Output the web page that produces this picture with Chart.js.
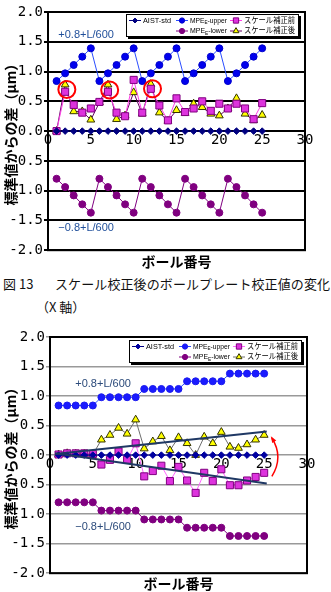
<!DOCTYPE html>
<html lang="ja">
<head>
<meta charset="utf-8">
<title>スケール校正後のボールプレート校正値の変化</title>
<script src="https://cdn.jsdelivr.net/npm/chart.js@4.4.1/dist/chart.umd.min.js"></script>
<style>
html, body { margin: 0; padding: 0; background: #fff; }
body { width: 331px; height: 592px; position: relative; overflow: hidden; font-family: "Noto Sans CJK JP", sans-serif; }
.box { position: absolute; left: 0; width: 331px; }
#box1 { top: 0; height: 270px; }
#box2 { top: 320px; height: 272px; }
.cap { position: absolute; font-size: 13px; line-height: 18px; color: #111; white-space: nowrap; }
</style>
</head>
<body>
<div class="box" id="box1"><canvas id="fig13"></canvas></div>
<div class="cap" style="left:3px; top:275px;">図 13</div>
<div class="cap" style="left:55px; top:275px; letter-spacing:0.1px;">スケール校正後のボールプレート校正値の変化</div>
<div class="cap" style="left:36px; top:298px;">（X 軸）</div>
<div class="box" id="box2"><canvas id="fig14"></canvas></div>
<script>
// ボール番号と目盛
const balls = [1, 2, 3, 4, 5, 6, 7, 8, 9, 10, 11, 12, 13, 14, 15, 16, 17, 18, 19, 20, 21, 22, 23, 24, 25];
const xTicks = [0, 5, 10, 15, 20, 25, 30];
const yTicks = [-2.0, -1.5, -1.0, -0.5, 0.0, 0.5, 1.0, 1.5, 2.0];
const names = ['AIST-std', 'MPE_E-upper', 'MPE_E-lower', 'スケール補正前', 'スケール補正後'];

// 図13 (X軸, 鋸歯状の MPE)
const std1 = [0, 0, 0, 0, 0, 0, 0, 0, 0, 0, 0, 0, 0, 0, 0, 0, 0, 0, 0, 0, 0, 0, 0, 0, 0];
const upper1 = [0.84, 0.97, 1.11, 1.25, 1.39, 0.84, 0.97, 1.11, 1.25, 1.39, 0.84, 0.97, 1.11, 1.25, 1.39,
                0.84, 0.97, 1.11, 1.25, 1.39, 0.84, 0.97, 1.11, 1.25, 1.39];
const lower1 = [-0.80, -0.94, -1.08, -1.23, -1.37, -0.80, -0.94, -1.08, -1.23, -1.37, -0.80, -0.94, -1.08, -1.23, -1.37,
                -0.80, -0.94, -1.08, -1.23, -1.37, -0.80, -0.94, -1.08, -1.23, -1.37];
const before1 = [0.00, 0.66, 0.44, 0.31, 0.38, 0.49, 0.66, 0.31, 0.25, 0.86, 0.31, 0.71, 0.43, 0.18, 0.55,
                 0.32, 0.38, 0.50, 0.34, 0.46, 0.38, 0.46, 0.38, 0.20, 0.47];
const after1 = [0.00, 0.78, 0.33, 0.33, 0.19, 0.48, 0.78, 0.20, 0.26, 0.65, 0.29, 0.79, 0.31, 0.17, 0.35,
                0.30, 0.46, 0.40, 0.29, 0.26, 0.38, 0.55, 0.29, 0.18, 0.27];
const circleX = [2.2, 7.2, 12.2];
const circleY = [0.70, 0.69, 0.71];

// 図14 (階段状の MPE)
const std2 = [0, 0, 0, 0, 0, 0, 0, 0, 0, 0, 0, 0, 0, 0, 0, 0, 0, 0, 0, 0, 0, 0, 0, 0, 0];
const upper2 = [0.84, 0.84, 0.84, 0.84, 0.84, 0.98, 0.98, 0.98, 0.98, 0.98, 1.12, 1.12, 1.12, 1.12, 1.12,
                1.25, 1.25, 1.25, 1.25, 1.25, 1.38, 1.38, 1.38, 1.38, 1.38];
const lower2 = [-0.80, -0.80, -0.80, -0.80, -0.80, -0.94, -0.94, -0.94, -0.94, -0.94, -1.09, -1.09, -1.09, -1.09, -1.09,
                -1.23, -1.23, -1.23, -1.23, -1.23, -1.37, -1.37, -1.37, -1.37, -1.37];
const before2 = [0.01, 0.03, 0.03, 0.03, 0.02, -0.16, -0.08, 0.06, -0.08, 0.20, -0.36, -0.27, -0.18, -0.44, -0.20,
                 -0.43, -0.64, -0.30, -0.44, -0.24, -0.51, -0.51, -0.43, -0.37, -0.30];
const after2 = [0.01, 0.03, 0.02, 0.02, 0.01, 0.26, 0.34, 0.46, 0.36, 0.60, 0.11, 0.23, 0.32, 0.08, 0.30,
                0.20, 0.00, 0.31, 0.20, 0.39, 0.14, 0.12, 0.18, 0.26, 0.34];
const trendX = [0.6, 25.3];
const trendUp = [0.02, 0.40];
const trendDown = [0.03, -0.48];

const pts = (xs, ys) => xs.map((x, i) => ({ x: x, y: ys[i] }));
const monoFont = { family: '"DejaVu Sans Mono", monospace', size: 14 };
const jpBold = { family: '"Noto Sans CJK JP", sans-serif', size: 14, weight: 'bold' };

function series(label, ys, style) {
    return Object.assign({ label: label, data: pts(balls, ys), borderWidth: 1, pointBorderWidth: 1 }, style);
}

function marker(ctx, ds, x, y, k) {
    const r = ds.pointRadius * k;
    ctx.fillStyle = ds.pointBackgroundColor;
    ctx.strokeStyle = ds.pointBorderColor;
    ctx.lineWidth = 1;
    ctx.beginPath();
    if (ds.pointStyle === 'rectRot') {
        ctx.moveTo(x, y - r); ctx.lineTo(x + r, y); ctx.lineTo(x, y + r); ctx.lineTo(x - r, y); ctx.closePath();
    } else if (ds.pointStyle === 'rect') {
        const s = r * Math.SQRT1_2;
        ctx.rect(x - s, y - s, 2 * s, 2 * s);
    } else if (ds.pointStyle === 'triangle') {
        ctx.moveTo(x, y - r); ctx.lineTo(x + r * 0.87, y + r * 0.5); ctx.lineTo(x - r * 0.87, y + r * 0.5); ctx.closePath();
    } else {
        ctx.arc(x, y, r, 0, Math.PI * 2);
    }
    ctx.fill();
    ctx.stroke();
}

// 凡例のラベル ("_E" は下付き), 欄の幅に収まるよう横に詰める
function legendText(ctx, text, x, y, maxW) {
    const base = '8px "Liberation Sans", "Noto Sans CJK JP", sans-serif';
    const small = '5.5px "Liberation Sans", sans-serif';
    const parts = text.split('_');
    const pieces = parts.length < 2 ? [[parts[0], base, 0]]
        : [[parts[0], base, 0], [parts[1].charAt(0), small, 2], [parts[1].slice(1), base, 0]];
    let total = 0;
    pieces.forEach(p => { ctx.font = p[1]; total += ctx.measureText(p[0]).width; });
    const k = Math.min(1, maxW / total);
    ctx.save();
    ctx.translate(x, y);
    ctx.scale(k, 1);
    ctx.fillStyle = '#000';
    ctx.textBaseline = 'middle';
    ctx.textAlign = 'left';
    let cx = 0;
    pieces.forEach(p => {
        ctx.font = p[1];
        ctx.fillText(p[0], cx, p[2]);
        cx += ctx.measureText(p[0]).width;
    });
    ctx.restore();
}

const boxLegend = {
    id: 'boxLegend',
    afterDraw(chart, args, opts) {
        const ctx = chart.ctx, area = chart.chartArea;
        const w = 173, h = 23;
        const left = area.right - opts.right - w, top = area.top + opts.top;
        const cols = [3, 50, 104];
        const textW = [28, 37, 51];
        const rowsY = [6.5, 17];
        ctx.save();
        ctx.fillStyle = '#000';
        ctx.fillRect(left + 2, top + 2, w, h);
        ctx.fillStyle = '#fff';
        ctx.fillRect(left, top, w, h);
        ctx.strokeStyle = '#000';
        ctx.lineWidth = 1;
        ctx.strokeRect(left + 0.5, top + 0.5, w - 1, h - 1);
        opts.rows.forEach((row, r) => row.forEach((di, c) => {
            if (di === null) return;
            const ds = chart.data.datasets[di];
            const x0 = left + cols[c], yy = top + rowsY[r];
            ctx.strokeStyle = ds.borderColor;
            ctx.lineWidth = 1;
            ctx.beginPath();
            ctx.moveTo(x0, yy);
            ctx.lineTo(x0 + 12, yy);
            ctx.stroke();
            marker(ctx, ds, x0 + 6, yy, 0.75);
            legendText(ctx, ds.label, x0 + 14, yy, textW[c]);
        }));
        ctx.restore();
    }
};

const frame = {
    id: 'frame',
    beforeDatasetsDraw(chart, args, opts) {
        const ctx = chart.ctx, a = chart.chartArea;
        ctx.save();
        ctx.strokeStyle = '#000';
        ctx.lineWidth = opts.width;
        ctx.strokeRect(a.left, a.top, a.right - a.left, a.bottom - a.top);
        ctx.restore();
    }
};

const notes = {
    id: 'notes',
    afterDatasetsDraw(chart, args, opts) {
        const ctx = chart.ctx, xs = chart.scales.x, ys = chart.scales.y;
        ctx.save();
        (opts.labels || []).forEach(n => {
            ctx.font = '11px "Liberation Sans", sans-serif';
            ctx.fillStyle = n.color;
            ctx.textBaseline = 'middle';
            ctx.textAlign = 'left';
            ctx.fillText(n.text, xs.getPixelForValue(n.x), ys.getPixelForValue(n.y));
        });
        const a = opts.arrow;
        if (a) {
            const p0 = [xs.getPixelForValue(a.from[0]), ys.getPixelForValue(a.from[1])];
            const pc = [xs.getPixelForValue(a.ctrl[0]), ys.getPixelForValue(a.ctrl[1])];
            const p1 = [xs.getPixelForValue(a.to[0]), ys.getPixelForValue(a.to[1])];
            ctx.strokeStyle = a.color;
            ctx.fillStyle = a.color;
            ctx.lineWidth = 1.5;
            ctx.beginPath();
            ctx.moveTo(p0[0], p0[1]);
            ctx.quadraticCurveTo(pc[0], pc[1], p1[0], p1[1]);
            ctx.stroke();
            const ang = Math.atan2(p1[1] - pc[1], p1[0] - pc[0]);
            ctx.beginPath();
            ctx.moveTo(p1[0] + 2 * Math.cos(ang), p1[1] + 2 * Math.sin(ang));
            ctx.lineTo(p1[0] - 5 * Math.cos(ang - 0.5), p1[1] - 5 * Math.sin(ang - 0.5));
            ctx.lineTo(p1[0] - 5 * Math.cos(ang + 0.5), p1[1] - 5 * Math.sin(ang + 0.5));
            ctx.closePath();
            ctx.fill();
        }
        ctx.restore();
    }
};

function makeOptions(cfg) {
    return {
        responsive: true,
        maintainAspectRatio: false,
        animation: false,
        events: [],
        layout: { padding: { top: cfg.top, right: cfg.right, left: 0, bottom: 0 } },
        scales: {
            x: {
                type: 'linear',
                position: { y: 0 },
                min: 0,
                max: 30,
                afterBuildTicks: s => { s.ticks = xTicks.map(v => ({ value: v })); },
                grid: { display: false, drawTicks: false },
                border: { display: cfg.axisLine, color: '#000', width: 2 },
                ticks: { font: monoFont, color: '#000', padding: 1, autoSkip: false, maxRotation: 0, callback: v => String(v) }
            },
            y: {
                min: -2,
                max: 2,
                afterBuildTicks: s => { s.ticks = yTicks.map(v => ({ value: v })); },
                afterFit: s => { s.width = cfg.axisWidth; },
                grid: { color: cfg.gridColor, lineWidth: cfg.gridWidth, tickLength: 4 },
                border: { display: false },
                ticks: { font: monoFont, color: '#000', padding: 1, callback: v => v.toFixed(1) },
                title: { display: true, text: '標準値からの差（μm）', font: jpBold, color: '#000', padding: { top: 2, bottom: 0 } }
            }
        },
        plugins: {
            legend: { display: false },
            tooltip: { enabled: false },
            title: {
                display: true, position: 'bottom', fullSize: false, text: 'ボール番号',
                font: jpBold, color: '#000', padding: { top: cfg.titlePad, bottom: 0 }
            },
            frame: { width: 2 },
            boxLegend: { right: cfg.legendRight, top: cfg.legendTop, rows: [[0, 1, 3], [null, 2, 4]] },
            notes: { labels: cfg.labels, arrow: cfg.arrow }
        }
    };
}

// 図13
new Chart(document.getElementById('fig13').getContext('2d'), {
    type: 'line',
    data: {
        datasets: [
            series(names[0], std1, { borderColor: '#000080', pointStyle: 'rectRot', pointRadius: 3.3, pointBackgroundColor: '#000080', pointBorderColor: '#000080' }),
            series(names[1], upper1, { borderColor: '#2a4dff', pointStyle: 'circle', pointRadius: 3.5, pointBackgroundColor: '#0000ee', pointBorderColor: '#0000cc' }),
            series(names[2], lower1, { borderColor: '#800080', pointStyle: 'circle', pointRadius: 3.5, pointBackgroundColor: '#800080', pointBorderColor: '#800080' }),
            series(names[3], before1, { borderColor: '#ff3fe6', pointStyle: 'rect', pointRadius: 5, pointBackgroundColor: '#dd33dd', pointBorderColor: '#800080' }),
            series(names[4], after1, { borderColor: '#660066', pointStyle: 'triangle', pointRadius: 4.5, pointBackgroundColor: '#ffff00', pointBorderColor: '#333300' }),
            {
                label: 'marks', data: pts(circleX, circleY), showLine: false, order: -1,
                pointStyle: 'circle', pointRadius: 8.5, pointBorderWidth: 2,
                pointBorderColor: '#ff0000', pointBackgroundColor: 'rgba(0,0,0,0)'
            }
        ]
    },
    options: makeOptions({
        top: 12, right: 26, axisWidth: 48, axisLine: true, gridColor: '#000', gridWidth: 2,
        titlePad: 3, legendRight: 6, legendTop: 2,
        labels: [
            { text: '+0.8+L/600', x: 1.2, y: 1.61, color: '#1f4e9a' },
            { text: '−0.8+L/600', x: 1.2, y: -1.63, color: '#1f4e9a' }
        ],
        arrow: null
    }),
    plugins: [frame, notes, boxLegend]
});

// 図14
new Chart(document.getElementById('fig14').getContext('2d'), {
    type: 'line',
    data: {
        datasets: [
            series(names[0], std2, { borderColor: '#000080', pointStyle: 'rectRot', pointRadius: 3.3, pointBackgroundColor: '#0000a0', pointBorderColor: '#0000a0' }),
            series(names[1], upper2, { borderColor: '#2a4dff', pointStyle: 'circle', pointRadius: 3.5, pointBackgroundColor: '#1a1aff', pointBorderColor: '#1a1aee' }),
            series(names[2], lower2, { borderColor: '#800080', pointStyle: 'circle', pointRadius: 3.5, pointBackgroundColor: '#800080', pointBorderColor: '#800080' }),
            series(names[3], before2, { borderColor: '#ff66ff', pointStyle: 'rect', pointRadius: 5, pointBackgroundColor: '#dd33dd', pointBorderColor: '#800080' }),
            series(names[4], after2, { borderColor: '#6e6e6e', pointStyle: 'triangle', pointRadius: 4.5, pointBackgroundColor: '#ffff00', pointBorderColor: '#333300' }),
            { label: 'trend+', data: pts(trendX, trendUp), borderColor: '#1f3864', borderWidth: 2, pointRadius: 0, order: -1 },
            { label: 'trend-', data: pts(trendX, trendDown), borderColor: '#1f3864', borderWidth: 2, pointRadius: 0, order: -1 }
        ]
    },
    options: makeOptions({
        top: 17, right: 24, axisWidth: 50, axisLine: false, gridColor: '#999', gridWidth: 1.5,
        titlePad: 2, legendRight: 5, legendTop: 3,
        labels: [
            { text: '+0.8+L/600', x: 2.95, y: 1.20, color: '#2b4a7a' },
            { text: '−0.8+L/600', x: 2.95, y: -1.21, color: '#2b4a7a' }
        ],
        arrow: { from: [25.9, -0.36], ctrl: [27.3, -0.03], to: [25.9, 0.29], color: '#ff0000' }
    }),
    plugins: [frame, notes, boxLegend]
});
</script>
</body>
</html>
